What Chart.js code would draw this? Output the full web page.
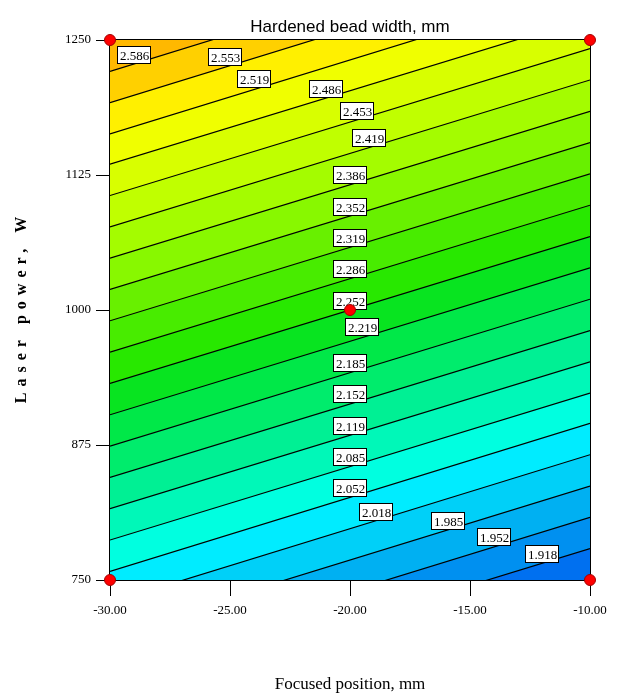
<!DOCTYPE html>
<html>
<head>
<meta charset="utf-8">
<title>Hardened bead width, mm</title>
<script src="https://cdn.jsdelivr.net/npm/chart.js@4.4.1/dist/chart.umd.min.js"></script>
<style>
  body { margin: 0; background: #fff; }
  canvas { display: block; }
</style>
</head>
<body>
<canvas id="contourChart" width="619" height="699"></canvas>
<script>
// Contour levels, lowest (bottom right) to highest (top left)
const levels = [1.918, 1.952, 1.985, 2.018, 2.052, 2.085, 2.119, 2.152, 2.185, 2.219, 2.252,
                2.286, 2.319, 2.352, 2.386, 2.419, 2.453, 2.486, 2.519, 2.553, 2.586];
// Laser power where each contour crosses x = -30 and x = -10 (some run past the frame)
const powerAtLeft = [643, 671, 700, 729, 758, 787, 816, 845, 874, 903, 932,
                     961, 990, 1019, 1048, 1077, 1106, 1135, 1163, 1192, 1221];
const powerAtRight = [779, 808, 837, 866, 895, 923, 952, 981, 1010, 1039, 1068,
                      1097, 1126, 1155, 1184, 1213, 1242, 1271, 1300, 1329, 1358];
// Where the level labels sit
const labelX = [-12.0, -14.0, -15.9, -18.9, -20.0, -20.0, -20.0, -20.0, -20.0, -19.5, -20.0,
                -20.0, -20.0, -20.0, -20.0, -19.2, -19.7, -21.0, -24.0, -25.2, -29.0];
const labelP = [774, 790, 805, 813, 835, 864, 893, 922, 951, 984, 1008,
                1038, 1067, 1095, 1125, 1159, 1184, 1205, 1214, 1234, 1236];
// Design points
const designX = [-30, -30, -10, -10, -20];
const designP = [750, 1250, 750, 1250, 1000];
// Axis ticks
const xTickValues = [-30, -25, -20, -15, -10];
const yTickValues = [750, 875, 1000, 1125, 1250];

// fill colour of the band just below each level, plus the band above the top one
const bandColors = ['#0070F0', '#0090F0', '#00B0F2', '#00D0F8', '#00ECFF', '#00FFE0', '#00F8B8',
                    '#00F094', '#00EC6C', '#00E848', '#08E420', '#28E800', '#48EC00', '#68F000',
                    '#88F800', '#A4FC00', '#C0FF00', '#D8FF00', '#F0FF00', '#FFF000', '#FFD000'];
const topBandColor = '#FFB800';

Chart.defaults.color = '#000';
Chart.defaults.font.family = '"Liberation Serif", "Times New Roman", serif';

const contourSets = levels.map((lv, i) => ({
    label: lv.toFixed(3),
    data: [{ x: -30, y: powerAtLeft[i] }, { x: -10, y: powerAtRight[i] }],
    borderColor: '#000',
    borderWidth: 1.2,
    backgroundColor: bandColors[i],
    fill: 'start',
    pointRadius: 0,
    order: 1
}));

const contourPlugin = {
    id: 'contourExtras',
    beforeDraw(chart) {
        const { ctx, chartArea: a } = chart;
        ctx.save();
        ctx.fillStyle = topBandColor;
        ctx.fillRect(a.left, a.top, a.right - a.left, a.bottom - a.top);
        ctx.restore();
    },
    beforeDatasetsDraw(chart) {
        const { ctx, chartArea: a } = chart;
        ctx.save();
        ctx.strokeStyle = '#000';
        ctx.lineWidth = 1;
        ctx.strokeRect(Math.round(a.left) - 0.5, Math.round(a.top) - 0.5,
            Math.round(a.right - a.left) + 1, Math.round(a.bottom - a.top) + 1);
        ctx.restore();
    },
    // labels go on top of the contour lines but under the red design points
    beforeDatasetDraw(chart, args) {
        if (args.index !== 0) return;
        const { ctx, scales: { x, y } } = chart;
        ctx.save();
        ctx.font = '13px "Liberation Serif", serif';
        ctx.textAlign = 'center';
        ctx.textBaseline = 'middle';
        levels.forEach((lv, i) => {
            const px = Math.round(x.getPixelForValue(labelX[i]));
            const py = Math.round(y.getPixelForValue(labelP[i]));
            const txt = lv.toFixed(3);
            const w = Math.round(ctx.measureText(txt).width) + 4;
            const h = 17;
            const left = px - Math.round(w / 2), top = py - Math.round(h / 2);
            ctx.fillStyle = '#fff';
            ctx.fillRect(left, top, w, h);
            ctx.strokeStyle = '#000';
            ctx.lineWidth = 1;
            ctx.strokeRect(left + 0.5, top + 0.5, w, h);
            ctx.fillStyle = '#000';
            ctx.fillText(txt, px + 0.5, py + 1.5);
        });
        ctx.restore();
    },
    afterDraw(chart) {
        const { ctx, chartArea: a } = chart;
        ctx.save();
        // main title
        ctx.fillStyle = '#000';
        ctx.font = '17px "Liberation Sans", Arial, sans-serif';
        ctx.textAlign = 'center';
        ctx.textBaseline = 'alphabetic';
        ctx.fillText('Hardened bead width, mm', (a.left + a.right) / 2, 32);
        // y axis title, spaced out
        ctx.translate(22, (a.top + a.bottom) / 2);
        ctx.rotate(-Math.PI / 2);
        ctx.font = 'bold 16px "Liberation Serif", serif';
        ctx.letterSpacing = '6px';
        const txt = 'Laser power, W';
        const w = ctx.measureText(txt).width - 6;
        ctx.textAlign = 'left';
        ctx.textBaseline = 'middle';
        ctx.fillText(txt, -w / 2, 0);
        ctx.restore();
    }
};

new Chart(document.getElementById('contourChart'), {
    type: 'line',
    data: {
        datasets: [
            {
                label: 'Design points',
                data: designX.map((v, i) => ({ x: v, y: designP[i] })),
                showLine: false,
                pointRadius: 5.5,
                pointBackgroundColor: '#FF0000',
                pointBorderColor: '#A00000',
                pointBorderWidth: 1,
                clip: false,
                order: 0
            },
            ...contourSets
        ]
    },
    options: {
        responsive: false,
        animation: false,
        layout: { padding: { top: 40, right: 29, bottom: 0, left: 0 } },
        plugins: {
            legend: { display: false },
            tooltip: { enabled: false },
            title: { display: false }
        },
        scales: {
            x: {
                type: 'linear',
                min: -30,
                max: -10,
                afterBuildTicks: s => { s.ticks = xTickValues.map(v => ({ value: v })); },
                afterFit: s => { s.height = 119; },
                grid: { drawOnChartArea: false, tickLength: 16, color: '#000' },
                border: { display: false },
                ticks: {
                    font: { size: 13 },
                    padding: 7,
                    maxRotation: 0,
                    callback: v => v.toFixed(2)
                },
                title: {
                    display: true,
                    text: 'Focused position, mm',
                    font: { size: 17 },
                    padding: { top: 0, bottom: 4 }
                }
            },
            y: {
                type: 'linear',
                min: 750,
                max: 1250,
                afterBuildTicks: s => { s.ticks = yTickValues.map(v => ({ value: v })); },
                afterFit: s => { s.width = 110; },
                grid: { drawOnChartArea: false, tickLength: 14, color: '#000' },
                border: { display: false },
                ticks: { font: { size: 13 }, padding: 5, callback: v => String(v) }
            }
        }
    },
    plugins: [contourPlugin]
});
</script>
</body>
</html>
